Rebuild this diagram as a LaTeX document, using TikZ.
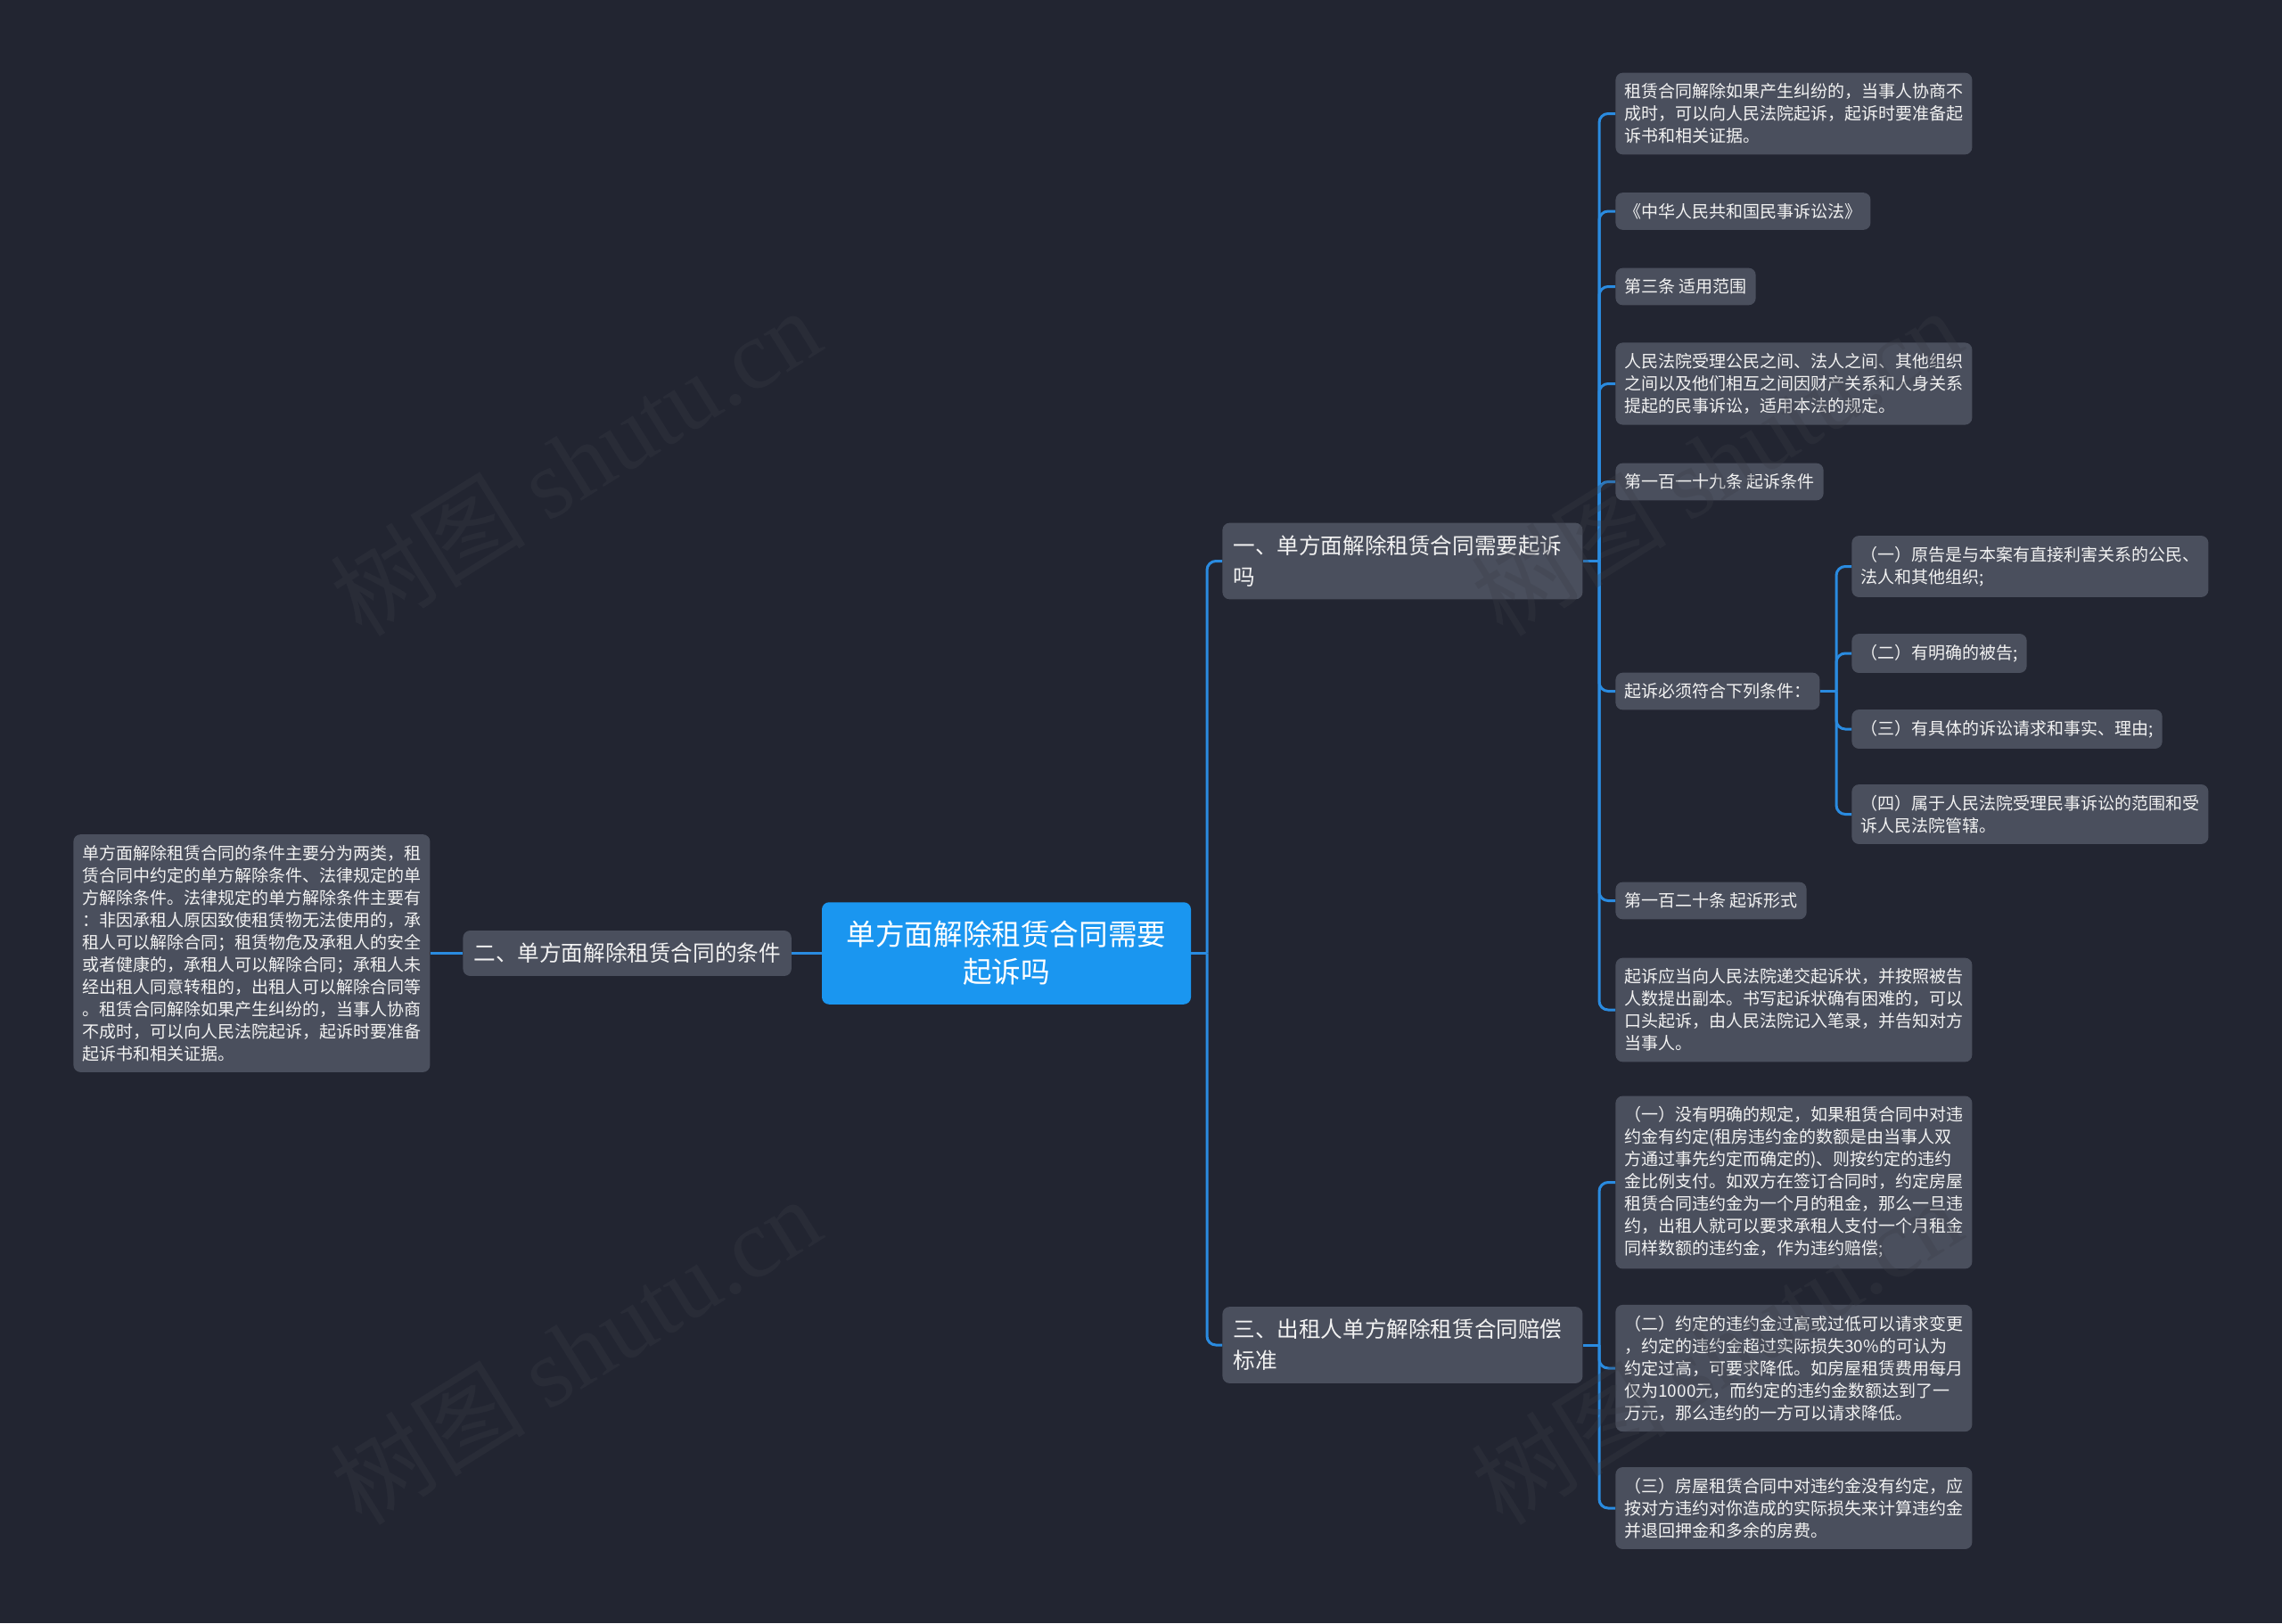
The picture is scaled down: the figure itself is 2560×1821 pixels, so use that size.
\documentclass[tikz,border=0pt]{standalone}
\usepackage{fontspec}
\setmainfont{Noto Sans CJK SC}
\newfontfamily\wmlatin{Liberation Serif}
\definecolor{bgcol}{HTML}{222531}
\definecolor{boxcol}{HTML}{4A4F5D}
\definecolor{rootcol}{HTML}{1A96F0}
\definecolor{linkcol}{HTML}{2A8BE0}
\definecolor{txtcol}{HTML}{F2F2F2}
\definecolor{wmcol}{HTML}{3A3D48}

\begin{document}
\begin{tikzpicture}[x=0.5pt,y=-0.5pt,
	cellbox/.style={fill=boxcol,text=txtcol,rounded corners=4pt,align=left,anchor=west},
	leaf/.style={cellbox,inner xsep=5pt,inner ysep=6pt,font=\fontsize{9.5pt}{12.5pt}\selectfont},
	wideleaf/.style={text width=190pt},
	subtopic/.style={cellbox,inner xsep=6pt,inner ysep=7pt,font=\fontsize{12.3pt}{17.5pt}\selectfont},
	maintopic/.style={fill=rootcol,text=white,rounded corners=4pt,align=center,text width=181pt,inner xsep=13pt,inner ysep=10.5pt,font=\fontsize{16.3pt}{21pt}\selectfont},
	link/.style={draw=linkcol,line width=1.5pt},
	wmark/.style={text=wmcol,text opacity=0.3,rotate=32,font=\fontsize{55pt}{55pt}\selectfont}]
	\fill[bgcol] (0,0) rectangle (2560,1821);

	\node[maintopic] (root) at (1129,1069.5) {单方面解除租赁合同需要\\起诉吗};
	\node[subtopic,text width=190pt] (b1) at (1371,629.5) {一、单方面解除租赁合同需要起诉\\吗};
	\node[subtopic] (b2) at (519,1069.5) {二、单方面解除租赁合同的条件};
	\node[subtopic,text width=190pt] (b3) at (1371,1509) {三、出租人单方解除租赁合同赔偿\\标准};

	\node[leaf,wideleaf] (e1) at (82,1069.5) {单方面解除租赁合同的条件主要分为两类，租\\赁合同中约定的单方解除条件、法律规定的单\\方解除条件。法律规定的单方解除条件主要有\\：非因承租人原因致使租赁物无法使用的，承\\租人可以解除合同；租赁物危及承租人的安全\\或者健康的，承租人可以解除合同；承租人未\\经出租人同意转租的，出租人可以解除合同等\\。租赁合同解除如果产生纠纷的，当事人协商\\不成时，可以向人民法院起诉，起诉时要准备\\起诉书和相关证据。};

	\node[leaf,wideleaf] (a1) at (1812,127.5) {租赁合同解除如果产生纠纷的，当事人协商不\\成时，可以向人民法院起诉，起诉时要准备起\\诉书和相关证据。};
	\node[leaf] (a2) at (1812,237) {《中华人民共和国民事诉讼法》};
	\node[leaf] (a3) at (1812,321.5) {第三条 适用范围};
	\node[leaf,wideleaf] (a4) at (1812,430.5) {人民法院受理公民之间、法人之间、其他组织\\之间以及他们相互之间因财产关系和人身关系\\提起的民事诉讼，适用本法的规定。};
	\node[leaf] (a5) at (1812,540.5) {第一百一十九条 起诉条件};
	\node[leaf] (a6) at (1812,775.5) {起诉必须符合下列条件：};
	\node[leaf] (a7) at (1812,1010.5) {第一百二十条 起诉形式};
	\node[leaf,wideleaf] (a8) at (1812,1133) {起诉应当向人民法院递交起诉状，并按照被告\\人数提出副本。书写起诉状确有困难的，可以\\口头起诉，由人民法院记入笔录，并告知对方\\当事人。};

	\node[leaf,wideleaf] (c1) at (2077,635.5) {（一）原告是与本案有直接利害关系的公民、\\法人和其他组织;};
	\node[leaf] (c2) at (2077,733) {（二）有明确的被告;};
	\node[leaf] (c3) at (2077,818) {（三）有具体的诉讼请求和事实、理由;};
	\node[leaf,wideleaf] (c4) at (2077,913.5) {（四）属于人民法院受理民事诉讼的范围和受\\诉人民法院管辖。};

	\node[leaf,wideleaf] (d1) at (1812,1326.5) {（一）没有明确的规定，如果租赁合同中对违\\约金有约定(租房违约金的数额是由当事人双\\方通过事先约定而确定的)、则按约定的违约\\金比例支付。如双方在签订合同时，约定房屋\\租赁合同违约金为一个月的租金，那么一旦违\\约，出租人就可以要求承租人支付一个月租金\\同样数额的违约金，作为违约赔偿;};
	\node[leaf,wideleaf] (d2) at (1812,1535) {（二）约定的违约金过高或过低可以请求变更\\，约定的违约金超过实际损失30\%的可认为\\约定过高，可要求降低。如房屋租赁费用每月\\仅为1000元，而约定的违约金数额达到了一\\万元，那么违约的一方可以请求降低。};
	\node[leaf,wideleaf] (d3) at (1812,1692) {（三）房屋租赁合同中对违约金没有约定，应\\按对方违约对你造成的实际损失来计算违约金\\并退回押金和多余的房费。};

	\coordinate (t0) at (1354,0);
	\coordinate (t1) at (1794,0);
	\coordinate (t2) at (2060,0);

	\draw[link] (root.west) -- (b2.east);
	\draw[link] (b2.west) -- (e1.east);
	\draw[link] (root.east) -- (root.east -| t0);
	\foreach \n in {b1,b3}
		\draw[link,rounded corners=5pt] (root.east -| t0) |- (\n.west);
	\draw[link] (b1.east) -- (b1.east -| t1);
	\foreach \n in {a1,a2,a3,a4,a5,a6,a7,a8}
		\draw[link,rounded corners=5pt] (b1.east -| t1) |- (\n.west);
	\draw[link] (a6.east) -- (a6.east -| t2);
	\foreach \n in {c1,c2,c3,c4}
		\draw[link,rounded corners=5pt] (a6.east -| t2) |- (\n.west);
	\draw[link] (b3.east) -- (b3.east -| t1);
	\foreach \n in {d1,d2,d3}
		\draw[link,rounded corners=5pt] (b3.east -| t1) |- (\n.west);

	\node[wmark] (w1) at (645,518) {树图 {\wmlatin shutu.cn}};
	\node[wmark] (w2) at (645,1515) {树图 {\wmlatin shutu.cn}};
	\node[wmark] (w3) at (1925,518) {树图 {\wmlatin shutu.cn}};
	\node[wmark] (w4) at (1925,1515) {树图 {\wmlatin shutu.cn}};
\end{tikzpicture}
\end{document}
